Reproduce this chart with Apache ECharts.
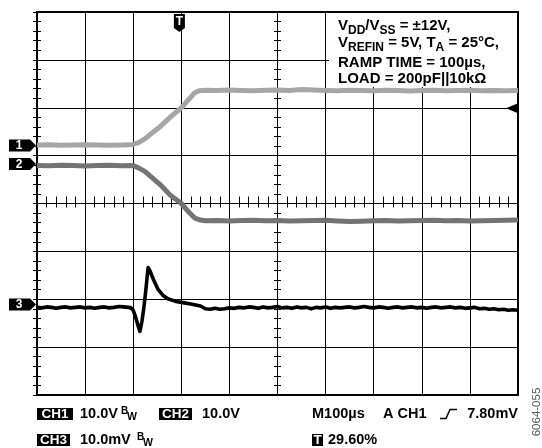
<!DOCTYPE html>
<html><head><meta charset="utf-8">
<script src="https://cdn.jsdelivr.net/npm/echarts@6/dist/echarts.min.js"></script>
<style>html,body{margin:0;padding:0;background:#fff}#c{width:542px;height:448px}</style>
</head><body><div id="c"></div>
<script>
// ---- scope settings ----
const timeMin = 0, timeMax = 1000, timePerDiv = 100;   // M100µs, 10 divisions
const divMin = -4, divMax = 4;                          // 8 vertical divisions
const triggerPct = 29.6;                                 // T 29.60%
const triggerLevel = 7.80;                               // A CH1 trigger level

// ---- CH1 (10.0V/div) ----
const ch1Scale = 10, ch1Ground = 1.21;
const ch1Time  = [0,25,50,75,100,125,150,175,193,
                  200,210,225,235,256,276,300,318,328,337,
                  350,375,400,425,450,475,500,525,550,575,600,625,650,675,700,725,750,775,800,825,850,875,900,925,950,975,1000];
const ch1Volts = [0.1,0.15,0.05,0.1,0.15,0.1,0.05,0.1,0.15,
                  0.25,0.55,1.45,2.3,3.95,5.85,7.9,9.9,11.05,11.45,
                  11.55,11.5,11.6,11.5,11.45,11.55,11.6,11.5,11.7,11.6,11.5,11.45,11.55,11.5,11.45,11.55,11.5,11.4,11.5,11.55,11.45,11.5,11.55,11.45,11.5,11.45,11.5];

// ---- CH2 (10.0V/div) ----
const ch2Scale = 10, ch2Ground = 0.825;
const ch2Time  = [0,25,50,75,100,125,150,175,193,
                  200,210,225,235,256,276,300,318,328,340,
                  350,375,400,425,450,475,500,525,550,575,600,625,650,675,700,725,750,775,800,825,850,875,900,925,950,975,1000];
const ch2Volts = [-0.3,-0.35,-0.25,-0.3,-0.4,-0.3,-0.25,-0.35,-0.3,
                  -0.35,-0.75,-1.6,-2.5,-4.3,-6.4,-8.25,-10.3,-11.3,-11.7,
                  -11.85,-11.8,-11.9,-11.8,-11.75,-11.85,-11.8,-11.9,-11.85,-11.8,-11.75,-11.9,-12.0,-11.95,-11.85,-11.8,-11.9,-11.85,-11.8,-11.75,-11.85,-11.8,-11.9,-11.85,-11.8,-11.75,-11.7];

// ---- CH3 (10.0mV/div) ----
const ch3Scale = 10, ch3Ground = -2.11;
const ch3Time = [0,10,20,30,40,50,60,70,80,90,100,110,120,130,140,150,160,170,180,190,
                 195,200,205,210,214,218,222,226,231,235,243,252,262,272,287,300,320,340,
                 350,360,370,380,390,400,410,420,430,440,450,460,470,480,490,500,510,520,530,540,
                 550,560,570,580,590,600,610,620,630,640,650,660,670,680,690,700,710,720,730,740,
                 750,760,770,780,790,800,810,820,830,840,850,860,870,880,890,900,910,920,930,940,
                 950,960,970,980,990,1000];
const ch3mV = [-0.6,-0.7,-0.5,-0.6,-0.8,-0.6,-0.5,-0.7,-0.6,-0.5,-0.7,-0.6,-0.8,-0.6,-0.5,-0.7,-0.6,-0.4,-0.5,-0.6,
               -0.7,-1.2,-2.6,-4.4,-5.6,-3.6,-0.8,2.8,7.7,7.0,5.0,3.1,1.9,1.2,0.7,0.45,0.1,-0.3,
               -0.9,-1.0,-0.8,-1.0,-0.9,-0.7,-0.8,-0.6,-0.7,-0.5,-0.6,-0.8,-0.5,-0.7,-0.6,-0.4,-0.7,-0.6,-0.8,-0.5,
               -0.7,-0.6,-0.9,-0.6,-0.7,-0.5,-0.8,-0.6,-0.7,-0.6,-0.5,-0.7,-0.6,-0.4,-0.6,-0.7,-0.5,-0.6,-0.8,-0.6,
               -0.5,-0.7,-0.6,-0.5,-0.7,-0.6,-0.8,-0.6,-0.5,-0.7,-0.6,-0.5,-0.7,-0.6,-0.8,-0.7,-0.6,-0.9,-0.8,-1.0,
               -0.9,-1.1,-1.0,-1.2,-1.1,-1.2];

// ---- annotation texts ----
const infoLines = [
  '{n|V}{s|DD}{n|/V}{s|SS}{n| = ±12V,}',
  '{n|V}{s|REFIN}{n| = 5V, T}{s|A}{n| = 25°C,}',
  '{n|RAMP TIME = 100µs,}',
  '{n|LOAD = 200pF||10kΩ}'
];
const ch1Label = '10.0V', ch2Label = '10.0V', ch3Label = '10.0mV';
const timebaseLabel = 'M100µs', trigSrcLabel = 'A CH1', trigLevelLabel = '7.80mV';
const figureId = '6064-055';

const toDiv = (vals, ground, scale, times) => times.map((t, i) => [t, ground + vals[i] / scale]);

const FONT = 'Liberation Sans, Arial, sans-serif';
const hidden = {axisLine:{show:false}, axisLabel:{show:false}, splitLine:{show:false}};
const tickX = (pos, inside, len, offset) => Object.assign({type:'value', min:timeMin, max:timeMax, interval:timePerDiv/5, position:pos, offset:offset||0,
  axisTick:{show:true, inside:inside, length:len, lineStyle:{color:'#000', width:1}}}, hidden);
const tickY = (pos, inside, len, offset) => Object.assign({type:'value', min:divMin, max:divMax, interval:0.2, position:pos, offset:offset||0,
  axisTick:{show:true, inside:inside, length:len, lineStyle:{color:'#000', width:1}}}, hidden);

const GL = 37, GT = 12, GW = 481, GH = 383;

const option = {
  animation: false,
  backgroundColor: '#fff',
  grid: {left:GL, top:GT, width:GW, height:GH, show:true, borderColor:'#000', borderWidth:2, backgroundColor:'transparent'},
  xAxis: [
    {type:'value', min:timeMin, max:timeMax, interval:timePerDiv, axisLine:{show:false}, axisTick:{show:false}, axisLabel:{show:false},
     splitLine:{show:true, lineStyle:{color:'#000', width:1}}},
    tickX('bottom', true, 4),
    tickX('top', true, 4),
    tickX('bottom', true, 7, -(GH/2 - 3.5))
  ],
  yAxis: [
    {type:'value', min:divMin, max:divMax, interval:1, axisLine:{show:false}, axisTick:{show:false}, axisLabel:{show:false},
     splitLine:{show:true, lineStyle:{color:'#000', width:1}}},
    tickY('left', true, 4),
    tickY('right', true, 4),
    tickY('left', true, 7, -(GW/2 - 3.5))
  ],
  series: [
    {type:'line', name:'CH1', data: toDiv(ch1Volts, ch1Ground, ch1Scale, ch1Time), showSymbol:false, z:3,
     lineStyle:{color:'#a6a6a6', width:5, join:'round'}},
    {type:'line', name:'CH2', data: toDiv(ch2Volts, ch2Ground, ch2Scale, ch2Time), showSymbol:false, z:3,
     lineStyle:{color:'#747474', width:5, join:'round'}},
    {type:'line', name:'CH3', data: toDiv(ch3mV, ch3Ground, ch3Scale, ch3Time), showSymbol:false, z:4,
     lineStyle:{color:'#000000', width:3.6, join:'round'}}
  ]
};

const chart = echarts.init(document.getElementById('c'), null, {renderer:'canvas'});
chart.setOption(option);

const P = (t, d) => chart.convertToPixel({xAxisIndex:0, yAxisIndex:0}, [t, d]);
const g = [];
// info box
g.push({type:'rect', shape:{x:GL+292, y:GT+1, width:GW-293, height:74}, style:{fill:'#fff'}, z:50});
const rich = {
  n:{fontFamily:FONT, fontWeight:'bold', fontSize:15, lineHeight:15, verticalAlign:'top', fill:'#000'},
  s:{fontFamily:FONT, fontWeight:'bold', fontSize:12, lineHeight:12, verticalAlign:'top', padding:[6,0,0,0], fill:'#000'}
};
const lineTops = [18.2, 35.2, 55.2, 71.5];
infoLines.forEach((txt, i) => g.push({type:'text', x:338, y:lineTops[i], z:51,
  style:{text:txt, rich:rich, align:'left', verticalAlign:'top', fontFamily:FONT, fontWeight:'bold', fontSize:15}}));

// channel ground markers
[[ch1Ground,'1'],[ch2Ground,'2'],[ch3Ground,'3']].forEach(([gd, lab]) => {
  const y = P(timeMin, gd)[1];
  g.push({type:'polygon', shape:{points:[[9,y-6],[30,y-6],[36,y],[30,y+6],[9,y+6]]}, style:{fill:'#000'}, z:60});
  g.push({type:'text', x:19, y:y+0.5, z:61, style:{text:lab, fill:'#fff', fontFamily:FONT, fontWeight:'bold', fontSize:12, align:'center', verticalAlign:'middle'}});
});
// trigger position marker
const tx = P(timeMin + (timeMax - timeMin) * triggerPct / 100, 0)[0];
g.push({type:'polygon', shape:{points:[[tx-5.5,14],[tx+5.5,14],[tx+5.5,28],[tx,32],[tx-5.5,28]]}, style:{fill:'#000'}, z:60});
g.push({type:'text', x:tx, y:21.5, z:61, style:{text:'T', fill:'#fff', fontFamily:FONT, fontWeight:'bold', fontSize:12, align:'center', verticalAlign:'middle'}});
// trigger level marker
const ty = P(timeMax, ch1Ground + triggerLevel / ch1Scale)[1];
g.push({type:'polygon', shape:{points:[[506,ty],[518,ty-5],[518,ty+5]]}, style:{fill:'#000'}, z:60});

// bottom readouts
const txt = (x, y, s, opts) => g.push({type:'text', x:x, y:y, z:61, style:Object.assign({text:s, fill:'#000', fontFamily:FONT, fontWeight:'bold', fontSize:14.5, align:'left', verticalAlign:'middle'}, opts||{})});
const box = (x, y, w, h, s) => {
  g.push({type:'rect', shape:{x:x, y:y, width:w, height:h}, style:{fill:'#000'}, z:60});
  txt(x + w/2, y + h/2 + 0.5, s, {fill:'#fff', align:'center', fontSize:13.5});
};
const r1 = 414, r2 = 440;
box(37, r1-6, 36, 12, 'CH1');  txt(80, r1, ch1Label);
txt(121, r1-3, 'B', {fontSize:10}); txt(127, r1+3.5, 'W', {fontSize:10.5});
box(159, r1-6, 33, 12, 'CH2'); txt(202, r1, ch2Label);
txt(312, r1, timebaseLabel);
txt(383, r1, trigSrcLabel);
g.push({type:'polyline', shape:{points:[[440,418.5],[446,418.5],[450,409.5],[457,409.5]]}, style:{stroke:'#000', lineWidth:1.5, fill:null}, z:61});
txt(518, r1, trigLevelLabel, {align:'right'});
box(37, r2-6, 33, 12, 'CH3'); txt(80, r2, ch3Label);
txt(137, r2-3, 'B', {fontSize:10}); txt(143, r2+3.5, 'W', {fontSize:10.5});
box(312, r2-6, 11, 12, 'T');
txt(328, r2, triggerPct.toFixed(2) + '%');
g.push({type:'text', x:537, y:412, rotation:Math.PI/2, z:61,
  style:{text:figureId, fill:'#555', fontFamily:FONT, fontSize:11.5, align:'center', verticalAlign:'middle'}});

chart.setOption({graphic: g});
</script>
</body></html>
